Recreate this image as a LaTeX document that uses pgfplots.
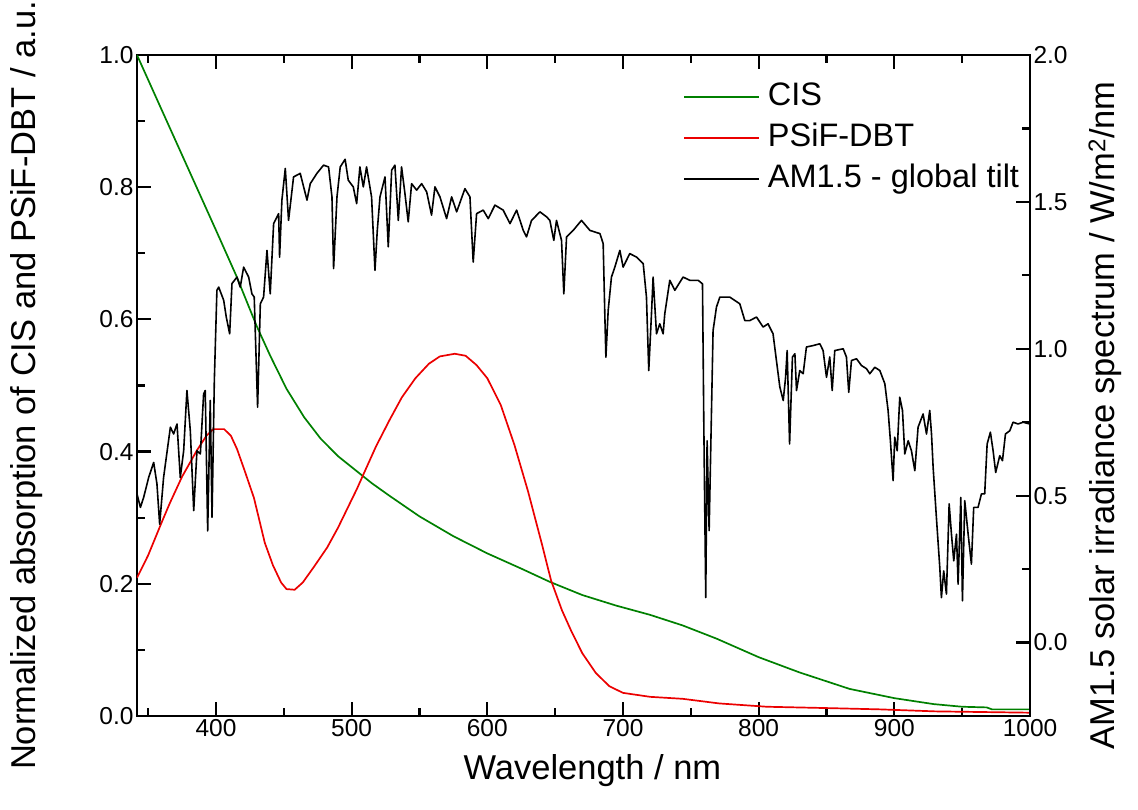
\documentclass[border=0pt]{standalone}
\usepackage{fontspec}
\setmainfont{Liberation Sans}
\usepackage{pgfplots}
\pgfplotsset{compat=1.18}
\definecolor{cisgreen}{RGB}{0,128,0}
\definecolor{psired}{RGB}{235,0,0}
\begin{document}
\begin{tikzpicture}
\path[use as bounding box] (-137pt,-93pt) rectangle (1001pt,716pt);
\pgfplotsset{
  every axis/.append style={
    scale only axis, width=893pt, height=661pt,
    xmin=341.8, xmax=1000,
    tick align=inside,
    major tick length=14pt, minor tick length=8pt,
    every tick/.style={line width=2.2pt, black},
    every minor tick/.style={line width=2.2pt, black},
    axis line style={line width=2.5pt},
    tick label style={font=\fontsize{24.5}{28}\selectfont},
    label style={font=\fontsize{34.5}{40}\selectfont},
    /pgf/number format/assume math mode=true,
  }
}
\begin{axis}[
  ymin=0, ymax=1,
  xtick={400,500,600,700,800,900,1000},
  minor xtick={350,450,550,650,750,850,950},
  ytick={0,0.2,0.4,0.6,0.8,1.0},
  minor ytick={0.1,0.3,0.5,0.7,0.9},
  xtick pos=both, ytick pos=left,
  xticklabel style={/pgf/number format/1000 sep={}},
  yticklabel style={/pgf/number format/fixed, /pgf/number format/fixed zerofill, /pgf/number format/precision=1},
  xlabel={Wavelength / nm},
  ylabel={Normalized absorption of CIS and PSiF-DBT / a.u.},
  xlabel style={at={(axis description cs:0.51,-0.083)}, anchor=center},
  ylabel style={at={(axis description cs:-0.124,0.5)}, anchor=center},
  legend style={draw=none, fill=none, inner sep=0pt, at={(axis description cs:0.6115,0.962)}, anchor=north west,
    font=\fontsize{32.5}{37}\selectfont, legend cell align=left, row sep=7pt,
    nodes={inner sep=2pt, text height=23pt, text depth=7pt}},
  legend image code/.code={\draw[#1] (0pt,0pt) -- (75pt,0pt); \path (81pt,0pt);},
]
\addplot[cisgreen, line width=1.7pt] table {
341.8 1.000
360 0.917
380 0.826
400 0.735
415 0.666
430 0.590
440 0.545
452 0.495
465 0.452
477 0.420
490 0.393
504 0.370
515 0.352
528 0.333
550 0.302
575 0.272
600 0.246
625 0.223
646 0.203
670 0.183
695 0.167
720 0.153
744 0.137
769 0.117
800 0.089
830 0.066
867 0.041
900 0.027
929 0.018
950 0.014
968 0.013
972 0.010
1000 0.010
};
\addlegendentry{CIS}
\addplot[psired, line width=1.7pt] table {
341.8 0.209
350 0.243
360 0.293
366 0.322
375 0.362
386 0.402
393 0.424
398 0.434
406 0.434
411 0.424
415.5 0.404
421 0.372
428 0.330
436 0.262
442 0.228
448 0.202
452 0.192
458 0.191
464 0.202
472 0.225
482 0.255
490 0.285
504 0.344
509 0.367
518 0.408
528 0.448
537 0.482
547 0.511
557 0.533
565 0.544
576 0.548
584 0.545
592 0.531
600 0.511
610 0.470
620 0.410
630 0.340
640 0.262
647 0.205
655 0.160
662 0.128
670 0.095
680 0.065
690 0.045
700 0.035
720 0.029
744 0.026
771 0.019
806 0.014
850 0.012
890 0.010
930 0.007
1000 0.005
};
\addlegendentry{PSiF-DBT}
\addlegendimage{black, line width=1.7pt}
\addlegendentry{AM1.5 - global tilt}
\end{axis}
\begin{axis}[
  axis x line=none, axis y line*=right,
  y axis line style={-},
  ymin=-0.25, ymax=2,
  ytick={0,0.5,1,1.5,2},
  minor ytick={0.25,0.75,1.25,1.75},
  ytick pos=right, yticklabel pos=right,
  yticklabel style={/pgf/number format/fixed, /pgf/number format/fixed zerofill, /pgf/number format/precision=1},
  ylabel={AM1.5 solar irradiance spectrum / W/m\textsuperscript{2}/nm},
  ylabel style={at={(axis description cs:1.084,0.455)}, anchor=center},
]
\addplot[black, line width=1.6pt, line join=round] table {
341.8 0.506
344.3 0.460
346.7 0.494
350.4 0.562
354.1 0.613
356.5 0.540
358.5 0.403
361.4 0.562
366.4 0.733
368.8 0.710
371.3 0.744
373.7 0.562
376.2 0.653
378.6 0.858
381.1 0.721
383.6 0.449
386.0 0.653
388.5 0.642
390.9 0.846
392.1 0.858
393.9 0.380
395.8 0.824
397.1 0.426
398.8 0.892
400.7 1.199
402.0 1.210
405.7 1.165
407.6 1.108
410.1 1.051
411.8 1.222
415.5 1.244
417.9 1.210
420.4 1.278
424.1 1.244
426.5 1.187
428.2 1.176
430.7 0.801
432.7 1.153
435.1 1.176
437.6 1.335
440.0 1.187
442.5 1.426
446.2 1.460
446.9 1.312
448.6 1.506
451.1 1.614
453.5 1.437
457.2 1.585
462.1 1.597
467.1 1.506
469.5 1.562
474.4 1.597
479.3 1.625
483.0 1.619
485.5 1.517
486.7 1.273
489.2 1.517
491.6 1.619
495.2 1.645
497.5 1.574
501.2 1.551
503.7 1.494
506.1 1.619
508.6 1.551
511.0 1.619
514.7 1.517
517.2 1.267
518.9 1.403
520.9 1.517
524.6 1.585
527.0 1.347
529.5 1.608
531.9 1.625
534.4 1.437
536.8 1.619
539.3 1.528
541.7 1.432
544.2 1.562
547.9 1.540
551.6 1.562
555.3 1.534
558.9 1.455
561.4 1.551
565.1 1.517
570.0 1.443
573.7 1.517
577.4 1.466
583.5 1.545
587.2 1.517
589.6 1.295
592.1 1.460
597.0 1.472
600.7 1.443
605.6 1.489
611.7 1.472
616.7 1.426
621.6 1.472
626.5 1.403
628.9 1.381
632.6 1.437
638.8 1.466
643.7 1.449
646.1 1.437
649.0 1.369
651.0 1.437
654.7 1.369
656.4 1.187
658.4 1.381
663.3 1.403
669.4 1.437
675.6 1.403
683.0 1.392
685.4 1.358
686.6 1.119
687.4 0.971
689.1 1.131
691.5 1.244
694.0 1.278
697.7 1.335
700.1 1.278
705.0 1.324
710.0 1.312
714.9 1.290
717.3 1.176
719.0 0.926
721.0 1.119
722.2 1.244
724.7 1.051
727.1 1.085
729.6 1.051
730.8 1.119
734.5 1.233
738.2 1.199
744.3 1.244
749.3 1.233
755.4 1.233
758.6 1.221
759.6 0.733
761.0 0.153
762.0 0.687
763.5 0.381
766.4 1.062
768.9 1.142
771.4 1.176
778.7 1.176
786.1 1.153
789.8 1.096
793.5 1.096
798.4 1.108
803.3 1.074
806.9 1.085
810.6 1.051
813.1 0.960
815.6 0.870
818.1 0.824
819.8 0.900
821.0 0.994
822.8 0.676
824.9 0.972
826.7 0.983
827.9 0.858
830.3 0.926
832.8 0.915
835.2 1.006
840.2 1.011
845.1 1.017
847.5 0.994
850.0 0.903
852.4 0.972
854.2 0.858
856.1 0.994
862.3 1.000
864.7 0.972
866.4 0.852
868.4 0.960
872.1 0.966
875.8 0.943
879.5 0.932
881.9 0.915
885.6 0.937
889.3 0.926
893.0 0.881
895.4 0.790
897.1 0.687
899.1 0.551
900.3 0.699
902.1 0.653
904.0 0.835
906.0 0.790
907.7 0.642
910.2 0.687
912.6 0.653
915.1 0.585
917.5 0.733
921.2 0.778
923.7 0.710
926.1 0.790
927.4 0.710
928.6 0.596
931.0 0.426
933.5 0.256
934.7 0.153
936.4 0.244
938.4 0.165
940.4 0.472
942.1 0.369
943.8 0.278
945.8 0.369
947.0 0.199
949.0 0.494
950.2 0.142
951.9 0.483
954.4 0.369
956.8 0.267
958.5 0.460
961.7 0.460
964.2 0.506
966.6 0.506
968.4 0.676
970.8 0.716
972.8 0.653
974.7 0.579
977.7 0.636
979.7 0.619
981.9 0.710
985.1 0.721
987.5 0.750
991.2 0.744
994.9 0.750
999.8 0.744
};
\end{axis}
\end{tikzpicture}
\end{document}
